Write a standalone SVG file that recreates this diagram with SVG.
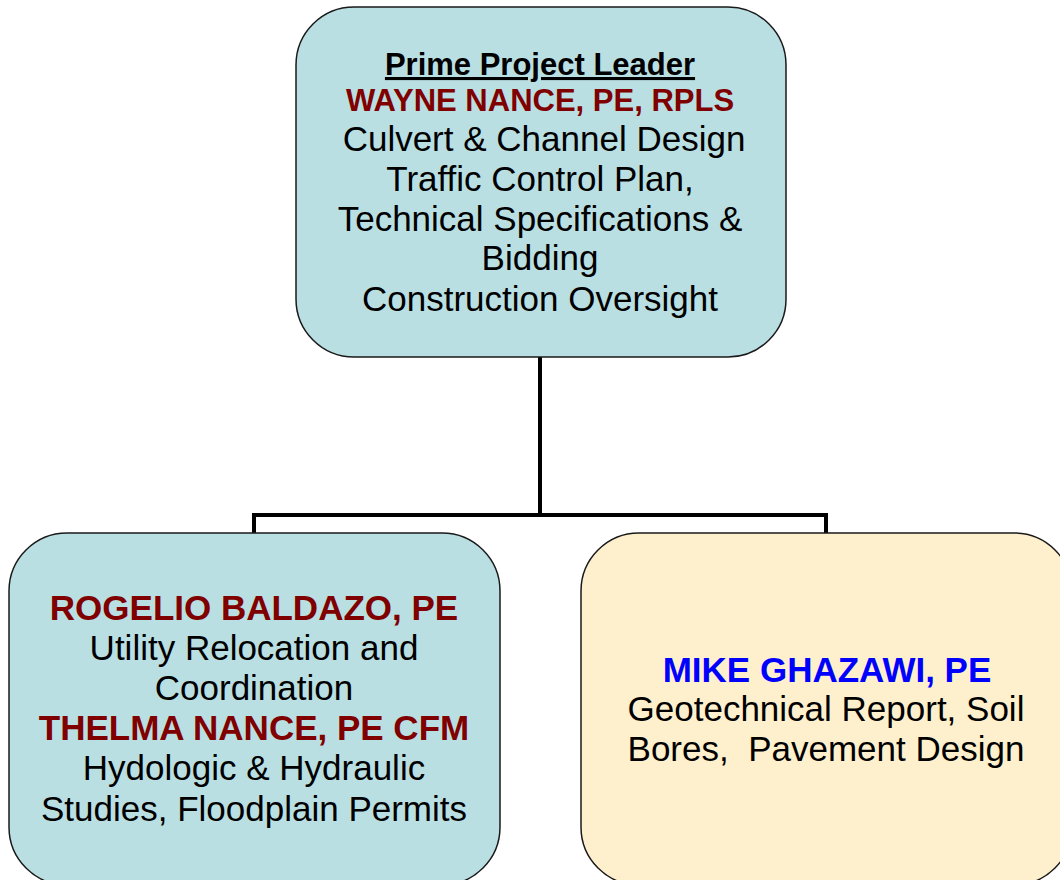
<svg xmlns="http://www.w3.org/2000/svg" width="1060" height="880" viewBox="0 0 1060 880">
<style>
.box{stroke:#1a1a1a;stroke-width:1.5}
.blue{fill:#B9DFE3}
.cream{fill:#FFF0CD}
text{font-family:"Liberation Sans",Arial,sans-serif;text-anchor:middle;white-space:pre}
.r{font-size:35px;fill:#000}
.b{font-weight:bold;fill:#800000}
.conn{fill:none;stroke:#000;stroke-width:4}
</style>
<rect width="1060" height="880" fill="#fff"/>
<g id="connectors">
<path class="conn" d="M540 357 V515"/>
<path class="conn" d="M254 533 V515 H826 V533"/>
</g>
<g id="node-prime">
<rect class="box blue" x="296" y="7" width="490" height="350" rx="58" ry="58"/>
<text x="540" y="75" style="font-size:31px;font-weight:bold;text-decoration:underline" fill="#000">Prime Project Leader</text>
<text class="b" x="540" y="111" style="font-size:31px">WAYNE NANCE, PE, RPLS</text>
<text class="r" x="544" y="151">Culvert &amp; Channel Design</text>
<text class="r" x="540" y="191">Traffic Control Plan,</text>
<text class="r" x="540" y="231">Technical Specifications &amp;</text>
<text class="r" x="540" y="270">Bidding</text>
<text class="r" x="540" y="311">Construction Oversight</text>
</g>
<g id="node-left">
<rect class="box blue" x="9" y="533" width="491" height="352" rx="58" ry="58"/>
<text class="b" x="254" y="620" style="font-size:35px">ROGELIO BALDAZO, PE</text>
<text class="r" x="254" y="660">Utility Relocation and</text>
<text class="r" x="254" y="700">Coordination</text>
<text class="b" x="254" y="740" style="font-size:35px">THELMA NANCE, PE CFM</text>
<text class="r" x="254" y="780">Hydologic &amp; Hydraulic</text>
<text class="r" x="254" y="821">Studies, Floodplain Permits</text>
</g>
<g id="node-right">
<rect class="box cream" x="581" y="533" width="491" height="352" rx="58" ry="58"/>
<text x="827" y="682" style="font-size:35px;font-weight:bold" fill="#0000FF">MIKE GHAZAWI, PE</text>
<text class="r" x="826" y="721">Geotechnical Report, Soil</text>
<text class="r" x="826" y="761">Bores,  Pavement Design</text>
</g>
</svg>
